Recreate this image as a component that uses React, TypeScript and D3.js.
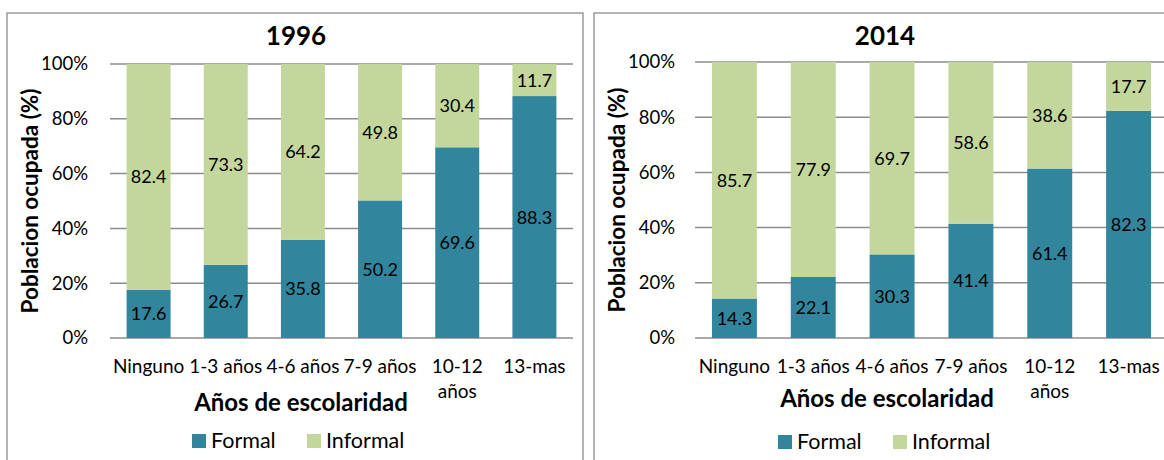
import React from "react";
import * as d3 from "d3";

const categories = ["Ninguno", "1-3 años", "4-6 años", "7-9 años", "10-12 años", "13-mas"];
const formal1996 = [17.6, 26.7, 35.8, 50.2, 69.6, 88.3];
const informal1996 = [82.4, 73.3, 64.2, 49.8, 30.4, 11.7];
const formal2014 = [14.3, 22.1, 30.3, 41.4, 61.4, 82.3];
const informal2014 = [85.7, 77.9, 69.7, 58.6, 38.6, 17.7];
const yTicks = [0, 20, 40, 60, 80, 100];
const seriesNames = ["Formal", "Informal"];

const FORMAL = "#31859C";
const INFORMAL = "#C3D69B";
const GRID = "#8C8C8C";
const BORDER = "#8F8F8F";
const FONT = "Lato, 'Open Sans', sans-serif";

type Layout = {
  bx: number; by: number; bw: number; bh: number;
  x0: number; x1: number; yTop: number; yBot: number;
  titleX: number; titleY: number;
  yTitleX: number; tickRight: number;
  xLabelY: number; xTitleX: number; xTitleY: number;
  legX: number; legY: number;
};

function Panel({ title, formal, informal, L }: { title: string; formal: number[]; informal: number[]; L: Layout }) {
  const x = d3.scaleBand<string>().domain(categories).range([L.x0, L.x1]).paddingInner(0.43).paddingOuter(0.215);
  const y = d3.scaleLinear().domain([0, 100]).range([L.yBot, L.yTop]);
  const bw = x.bandwidth();
  const stack = d3.stack<any>().keys(["formal", "informal"])(
    categories.map((c, i) => ({ cat: c, formal: formal[i], informal: informal[i] }))
  );
  const colors = [FORMAL, INFORMAL];
  const tickFmt = (v: number) => `${v}%`;
  return (
    <g>
      <rect x={L.bx} y={L.by} width={L.bw} height={L.bh} fill="#fff" stroke={BORDER} strokeWidth={1.3} />
      <text x={L.titleX} y={L.titleY} textAnchor="middle" fontFamily={FONT} fontWeight="bold" fontSize={26} fill="#000">{title}</text>
      {yTicks.map((t) => (
        <g key={t}>
          <line x1={L.x0} x2={L.x1} y1={y(t)} y2={y(t)} stroke={GRID} strokeWidth={1.5} />
          <text x={L.tickRight} y={y(t)} dy="0.35em" textAnchor="end" fontFamily={FONT} fontSize={18.5} fill="#000">{tickFmt(t)}</text>
        </g>
      ))}
      {stack.map((s, si) =>
        s.map((d, i) => (
          <rect key={`${si}-${i}`} x={x(categories[i])!} y={y(d[1])} width={bw} height={y(d[0]) - y(d[1])} fill={colors[si]} />
        ))
      )}
      {stack.map((s, si) =>
        s.map((d, i) => (
          <text key={`l${si}-${i}`} x={x(categories[i])! + bw / 2} y={(y(d[0]) + y(d[1])) / 2} dy="0.36em" textAnchor="middle" fontFamily={FONT} fontSize={18} fill="#000">
            {(si === 0 ? formal[i] : informal[i]).toFixed(1)}
          </text>
        ))
      )}
      {categories.map((c) => {
        const lines = c.length > 8 ? c.split(" ") : [c];
        return (
          <text key={c} x={x(c)! + bw / 2} y={L.xLabelY} textAnchor="middle" fontFamily={FONT} fontSize={19} fill="#000">
            {lines.map((ln, k) => (
              <tspan key={k} x={x(c)! + bw / 2} dy={k === 0 ? 0 : 25}>{ln}</tspan>
            ))}
          </text>
        );
      })}
      <text transform={`translate(${L.yTitleX},${(L.yTop + L.yBot) / 2}) rotate(-90)`} textAnchor="middle" fontFamily={FONT} fontWeight="bold" fontSize={22.5} fill="#000">
        Poblacion ocupada (%)
      </text>
      <text x={L.xTitleX} y={L.xTitleY} textAnchor="middle" fontFamily={FONT} fontWeight="bold" fontSize={24} fill="#000">
        Años de escolaridad
      </text>
      {seriesNames.map((n, k) => (
        <g key={n}>
          <rect x={L.legX + k * 115} y={L.legY} width={14} height={14} fill={colors[k]} />
          <text x={L.legX + k * 115 + 19} y={L.legY + 14} fontFamily={FONT} fontSize={21.5} fill="#000">{n}</text>
        </g>
      ))}
    </g>
  );
}

const left: Layout = {
  bx: 7, by: 13, bw: 576, bh: 470,
  x0: 110, x1: 573, yTop: 64, yBot: 338,
  titleX: 296, titleY: 45, yTitleX: 38, tickRight: 88,
  xLabelY: 373, xTitleX: 301, xTitleY: 411, legX: 192, legY: 434,
};
const right: Layout = {
  bx: 594, by: 13, bw: 590, bh: 470,
  x0: 695, x1: 1168, yTop: 62, yBot: 338,
  titleX: 885, titleY: 45, yTitleX: 625, tickRight: 675,
  xLabelY: 373, xTitleX: 887, xTitleY: 407, legX: 778, legY: 435,
};

export default function App() {
  return (
    <svg width={1164} height={460} style={{ position: "absolute", left: 0, top: 0, display: "block", background: "#fff" }}>
      <rect x={0} y={0} width={1164} height={460} fill="#fff" />
      <Panel title="1996" formal={formal1996} informal={informal1996} L={left} />
      <Panel title="2014" formal={formal2014} informal={informal2014} L={right} />
    </svg>
  );
}
